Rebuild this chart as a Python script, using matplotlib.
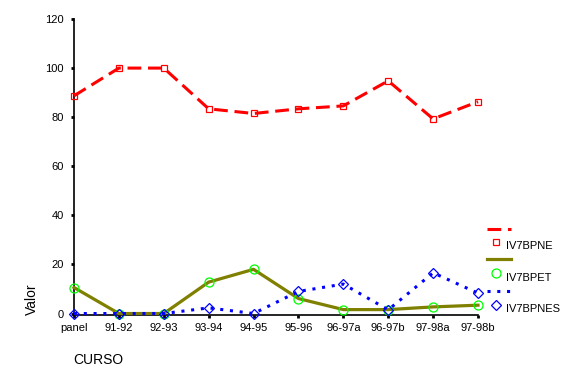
import matplotlib
matplotlib.use("Agg")
import matplotlib.pyplot as plt
from matplotlib.lines import Line2D

categories = ["panel", "91-92", "92-93", "93-94", "94-95", "95-96",
              "96-97a", "96-97b", "97-98a", "97-98b"]
iv7bpne = [88.7, 100.0, 100.0, 83.4, 81.5, 83.4, 84.6, 94.8, 79.3, 86.3]
iv7bpet = [10.6, 0.0, 0.0, 12.8, 18.0, 6.1, 1.6, 1.6, 2.7, 3.4]
iv7bpnes = [0.0, 0.0, 0.0, 2.3, 0.0, 9.0, 12.0, 1.5, 16.6, 8.3]
yticks = [0, 20, 40, 60, 80, 100, 120]

plt.rcParams['font.family'] = ['Liberation Sans', 'DejaVu Sans']

W, H = 565, 377
fig = plt.figure(figsize=(W / 100, H / 100), dpi=100)
ax = fig.add_axes([74 / W, 1 - 315 / H, (478 - 74) / W, (315 - 19) / H])

x = list(range(len(categories)))
red = '#ff0000'
olive = '#808000'
green = '#00ff00'
blue = '#0000ff'

ms_sq, ms_c, ms_d = 5, 6.5, 5.5

ax.plot(x, iv7bpne, color=red, lw=2.2, dashes=(4.5, 2.2), marker='s', ms=ms_sq,
        mfc='none', mec=red, mew=0.9, clip_on=False, zorder=3)
ax.plot(x, iv7bpet, color=olive, lw=2.3, marker='o', ms=ms_c, mfc='none',
        mec=green, mew=0.9, clip_on=False, zorder=3)
ax.plot(x, iv7bpnes, color=blue, lw=2.2, ls=(0, (1, 2.2)), marker='D', ms=ms_d,
        mfc='none', mec=blue, mew=0.9, clip_on=False, zorder=3)

ax.set_xlim(0, len(categories) - 1)
ax.set_ylim(-0.6, 120)
ax.set_xticks(x)
ax.set_xticklabels(categories)
ax.set_yticks(yticks)
ax.tick_params(axis='both', direction='out', length=2.5, width=2, labelsize=8,
               color='black')
ax.tick_params(axis='y', pad=5)
ax.tick_params(axis='x', pad=3)
for s in ['top', 'right']:
    ax.spines[s].set_visible(False)
for s in ['left', 'bottom']:
    ax.spines[s].set_linewidth(1.2)

fig.text(32 / W, 1 - 299 / H, 'Valor', rotation=90, fontsize=10,
         ha='center', va='center')
fig.text(73 / W, 1 - 360 / H, 'CURSO', fontsize=10, ha='left', va='center')

# manual legend
def fy(y):
    return 1 - y / H

def fx(xp):
    return xp / W

lx0, lx1, mx, tx = 487, 511, 496, 506
fig.add_artist(Line2D([fx(lx0), fx(lx1)], [fy(229), fy(229)], color=red,
                      lw=2.2, dashes=(4.5, 2.2)))
fig.add_artist(Line2D([fx(mx)], [fy(242)], marker='s', ms=ms_sq, mfc='none',
                      mec=red, mew=0.9, ls='none'))
fig.text(fx(tx), fy(246), 'IV7BPNE', fontsize=8, va='center', ha='left')
fig.add_artist(Line2D([fx(lx0), fx(lx1)], [fy(259), fy(259)], color=olive,
                      lw=2.3))
fig.add_artist(Line2D([fx(mx)], [fy(273)], marker='o', ms=ms_c, mfc='none',
                      mec=green, mew=0.9, ls='none'))
fig.text(fx(tx), fy(278), 'IV7BPET', fontsize=8, va='center', ha='left')
fig.add_artist(Line2D([fx(lx0), fx(lx1)], [fy(291), fy(291)], color=blue,
                      lw=2.2, ls=(0, (1, 2.2))))
fig.add_artist(Line2D([fx(mx)], [fy(305)], marker='D', ms=ms_d, mfc='none',
                      mec=blue, mew=0.9, ls='none'))
fig.text(fx(tx), fy(309), 'IV7BPNES', fontsize=8, va='center', ha='left')

fig.savefig('out.png', dpi=100)
